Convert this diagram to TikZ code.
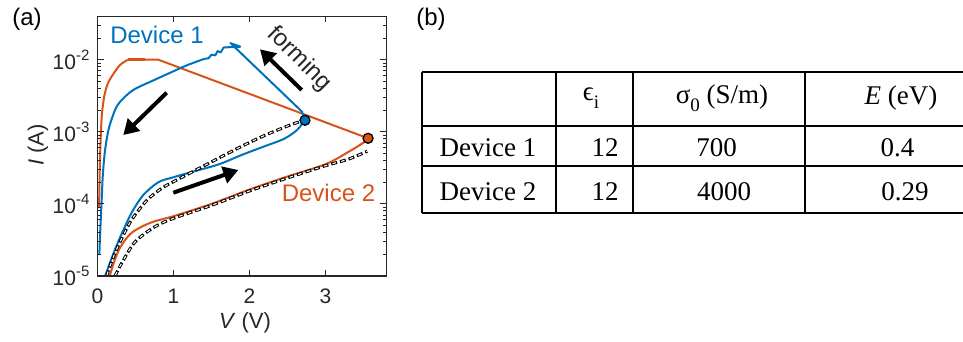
\documentclass[tikz,border=0pt]{standalone}
\usepackage{fontspec}
\setmainfont{Liberation Serif}
\setsansfont{Liberation Sans}
\usetikzlibrary{arrows.meta}

\definecolor{devone}{RGB}{0,114,189}
\definecolor{devtwo}{RGB}{217,83,25}
\definecolor{axgray}{RGB}{38,38,38}

\newcommand{\supexp}[1]{\raisebox{0.42em}{\fontsize{15}{15}\selectfont #1}}
\newcommand{\subidx}[1]{\raisebox{-0.3em}{\fontsize{19}{19}\selectfont #1}}

\tikzset{
    lbl/.style={font=\sffamily\fontsize{22}{26}\selectfont, text=axgray},
    biglbl/.style={font=\sffamily\fontsize{24}{28}\selectfont},
    ticklbl/.style={font=\sffamily\fontsize{21}{24}\selectfont, text=axgray},
    cell/.style={font=\rmfamily\fontsize{27}{30}\selectfont},
    curve/.style={line width=2pt, line join=round},
    fitline/.style={white, line width=1.1pt, dash pattern=on 3.5pt off 5.5pt, dash phase=-1.25pt,
        preaction={draw=black, line width=3pt, dash pattern=on 6pt off 3pt, dash phase=0pt}},
    bigarrow/.style={line width=4pt, -{Triangle[width=17pt,length=15pt]}},
    dot/.style={circle, draw=black, line width=1.3pt, minimum size=10pt, inner sep=0pt},
}

\begin{document}
\begin{tikzpicture}[x=1pt,y=1pt]
    \useasboundingbox (0,0) rectangle (963,341);

    \node[biglbl] (taga) at (27,322) {(a)};
    \node[biglbl] (tagb) at (431,322) {(b)};

    % I-V plot, drawn in (V, log10(I)+5)
    \begin{scope}[shift={(97.5,65)},x=76pt,y=72.1pt]
        %sweeps of device 2
        \draw[curve,devtwo] plot[smooth] coordinates {(0.16,0) (0.22,0.2) (0.30,0.40)
            (0.45,0.60) (0.7,0.74) (1.0,0.83) (1.5,1.0) (2.0,1.2) (2.5,1.38) (3.0,1.55)
            (3.3,1.72) (3.5,1.85) (3.56,1.91)};
        \draw[curve,devtwo] (3.56,1.91) -- (0.80,3.0) -- (0.40,3.0);
        \draw[devtwo,line width=3.5pt] (0.40,3.0) -- (0.62,3.0);
        \draw[curve,devtwo] plot[smooth] coordinates {(0.40,3.0) (0.30,2.93) (0.22,2.82)
            (0.14,2.68) (0.09,2.50) (0.055,2.2) (0.035,1.7) (0.025,1.2) (0.02,0.94)};

        %sweeps of device 1
        \draw[curve,devone] plot[smooth] coordinates {(0.10,0) (0.17,0.2) (0.25,0.42)
            (0.35,0.66) (0.45,0.88) (0.6,1.12) (0.8,1.30) (1.0,1.37) (1.3,1.46) (1.6,1.55)
            (1.9,1.68) (2.2,1.80) (2.45,1.90) (2.62,2.02) (2.73,2.16)};
        \draw[curve,devone] (2.73,2.16) -- (2.69,2.28) -- (1.75,3.23) -- (1.88,3.18)
            -- (1.66,3.17) -- (1.62,3.10) -- (1.58,3.12) -- (1.55,3.06) -- (1.50,3.07)
            -- (1.46,3.02) -- (1.40,3.01);
        \draw[curve,devone] plot[smooth] coordinates {(1.40,3.01) (1.17,2.92) (1.0,2.84)
            (0.75,2.72) (0.47,2.58) (0.3,2.42) (0.23,2.30) (0.15,2.05) (0.10,1.75)
            (0.07,1.4) (0.055,1.05) (0.035,0.6) (0.024,0.29)};

        %model fits
        \draw[fitline] plot[smooth] coordinates {(0.12,0) (0.2,0.24) (0.3,0.48) (0.45,0.78)
            (0.65,1.05) (0.85,1.22) (1.04,1.33) (1.44,1.55) (1.88,1.79) (2.2,1.95)
            (2.5,2.08) (2.66,2.14)};
        \draw[fitline] plot[smooth] coordinates {(0.23,0) (0.34,0.22) (0.5,0.48) (0.75,0.68)
            (1.0,0.8) (1.5,0.98) (2.0,1.18) (2.5,1.36) (3.0,1.53) (3.3,1.62) (3.55,1.73)};

        \node[dot,fill=devone] (dotone) at (2.73,2.16) {};
        \node[dot,fill=devtwo] (dottwo) at (3.56,1.91) {};

        %frame and ticks
        \draw[axgray,line width=1.3pt] (0,0) rectangle (3.8,3.6);
        \foreach \v in {0,...,3}{
            \draw[axgray,line width=1pt] (\v,0) -- ++(0,6pt);
            \draw[axgray,line width=1pt] (\v,3.6) -- ++(0,-6pt);
            \node[ticklbl] (xt\v) at (\v,-0.277) {\v};
        }
        \foreach \d/\e in {0/5,1/4,2/3,3/2}{
            \draw[axgray,line width=1pt] (0,\d) -- ++(6pt,0);
            \draw[axgray,line width=1pt] (3.8,\d) -- ++(-6pt,0);
            \node[ticklbl,anchor=east] (yt\d) at (-0.06,\d) {10\supexp{-\e}};
            \foreach \k in {2,...,9}{
                \pgfmathsetmacro\ly{\d+log10(\k)}
                \ifdim\ly pt<3.6pt
                    \draw[axgray,line width=0.8pt] (0,\ly) -- ++(3pt,0);
                    \draw[axgray,line width=0.8pt] (3.8,\ly) -- ++(-3pt,0);
                \fi
            }
        }
    \end{scope}

    %axis titles and labels
    \node[lbl] (xlab) at (245,18) {\textit{V} (V)};
    \node[lbl,rotate=90] (ylab) at (38,196) {\textit{I} (A)};
    \node[biglbl,text=devone] (nameone) at (157,306) {Device 1};
    \node[biglbl,text=devtwo] (nametwo) at (328.5,148.3) {Device 2};
    \node[biglbl,text=axgray,rotate=-45] (formlab) at (299,282) {forming};

    %sweep arrows
    \coordinate (dnA) at (166.7,248.3);
    \coordinate (dnB) at (123.3,206);
    \coordinate (upA) at (173.3,148.3);
    \coordinate (upB) at (238.3,171);
    \coordinate (fmA) at (301.7,251);
    \coordinate (fmB) at (260,291.7);
    \draw[bigarrow] (dnA) -- (dnB);
    \draw[bigarrow] (upA) -- (upB);
    \draw[bigarrow] (fmA) -- (fmB);

    %parameter table
    \begin{scope}[line width=1.6pt]
        \draw (421.7,269.3) -- (963,269.3);
        \draw (421.7,215.3) -- (963,215.3);
        \draw (421.7,175) -- (963,175);
        \draw (421.7,128) -- (963,128);
        \foreach \cx in {421.7,555.7,633,805}
            \draw (\cx,269.3) -- (\cx,128);
    \end{scope}
    \node[cell] (heps) at (591,242.5) {ϵ\subidx{i}};
    \node[cell] (hsig) at (722,242.5) {σ\subidx{0} (S/m)};
    \node[cell] (hact) at (901,242.5) {\textit{E} (eV)};
    \node[cell] (rowone) at (488,193) {Device 1};
    \node[cell] (epsone) at (605,193) {12};
    \node[cell] (sigone) at (716.5,193) {700};
    \node[cell] (actone) at (897.5,193) {0.4};
    \node[cell] (rowtwo) at (488,149) {Device 2};
    \node[cell] (epstwo) at (605,149) {12};
    \node[cell] (sigtwo) at (724,149) {4000};
    \node[cell] (acttwo) at (905,149) {0.29};
\end{tikzpicture}
\end{document}
